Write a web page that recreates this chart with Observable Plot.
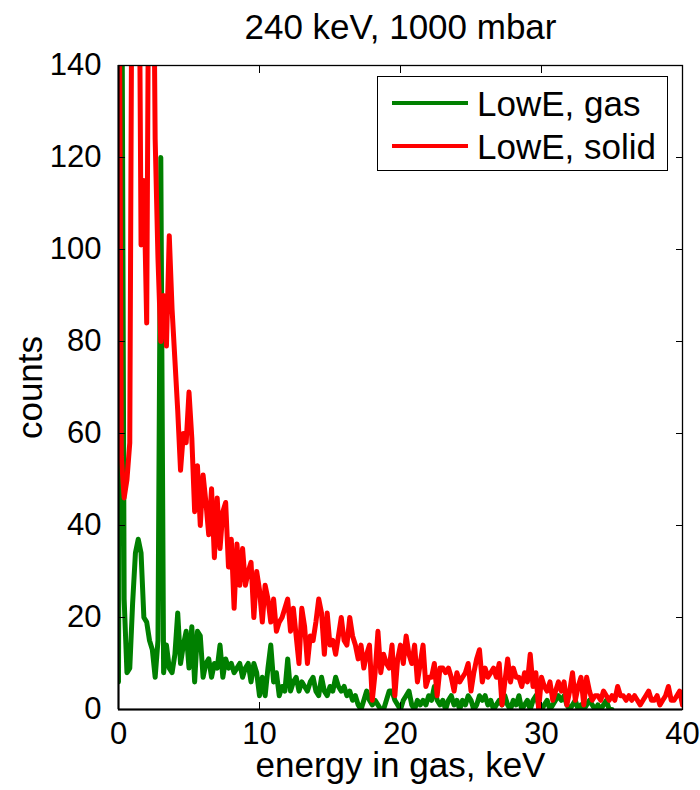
<!DOCTYPE html>
<html>
<head>
<meta charset="utf-8">
<script src="https://cdn.jsdelivr.net/npm/d3@7"></script>
<script src="https://cdn.jsdelivr.net/npm/@observablehq/plot@0.6"></script>
<style>
  body { margin: 0; background: #fff; }
  #chart { position: relative; width: 700px; height: 790px; font-family: "Liberation Sans", Arial, Helvetica, sans-serif; }
  #legend { position: absolute; left: 377px; top: 76px; width: 291px; height: 95px; border: 1.5px solid #000; background: #fff; box-sizing: border-box; }
  .sw { position: absolute; left: 14px; width: 76px; height: 4px; }
  .lab { position: absolute; left: 99px; font-size: 35px; line-height: 35px; color: #000; white-space: nowrap; }
</style>
</head>
<body>
<div id="chart"></div>
<script>
// ---- data (counts per 0.2 keV bin) ----
const title = "240 keV, 1000 mbar";
const xLabel = "energy in gas, keV";
const yLabel = "counts";
const seriesNames = ["LowE, gas", "LowE, solid"];
const seriesColors = ["#008000", "#ff0000"];
const binWidth = 0.2; // keV

// LowE, gas : bins from 0.0 to 35.0 keV
const gasCounts = [
  6,200,24,8,9,23,34,37,34,20,
  19,15,13,7,15,120,8,14,9,8,
  12,21,10,14,17,9,18,6,17,16,
  7,10,11,7,10,9,14,7,11,9,
  10,8,9,10,7,9,10,6,10,8,
  3,7,3,9,14,6,8,3,5,4,
  11,4,6,7,4,6,5,4,6,7,
  4,3,7,4,3,5,4,7,5,4,
  5,3,4,2,3,1,0,2,4,2,
  1,2,1,0,0,2,4,4,2,1,
  0,2,3,4,1,0,2,1,2,1,
  3,2,5,2,1,2,0,2,3,1,
  2,0,2,1,3,2,0,1,3,2,
  3,1,2,0,1,2,1,3,1,0,
  2,1,3,0,1,2,0,2,3,1,
  0,1,2,0,1,2,3,2,3,1,
  0,1,2,0,1,0,1,2,1,0,
  1,0,1,2,0,0
];

// LowE, solid : bins from 0.0 to 40.0 keV
const solidCounts = [
  200,55,46,50,58,200,200,200,101,115,
  84,200,200,124,98,80,90,79,103,87,
  76,65,52,60,58,69,59,43,53,40,
  51,45,38,48,33,46,35,43,45,31,
  37,22,36,27,35,27,30,32,20,30,
  26,19,27,24,19,24,17,19,20,22,
  24,17,22,16,10,22,18,10,16,15,
  19,24,21,12,21,14,15,12,16,20,
  15,14,20,16,14,11,14,9,12,14,
  2,8,17,8,12,10,9,14,3,11,
  14,10,16,12,10,14,6,10,14,5,
  7,7,10,3,9,9,8,9,7,4,
  8,6,7,8,10,4,8,11,13,6,
  9,7,8,9,7,10,1,6,11,6,
  9,7,7,5,8,6,12,5,8,0,
  7,5,4,6,2,4,6,4,6,1,
  4,8,2,5,7,1,7,4,2,3,
  3,2,4,3,2,3,2,5,3,3,
  2,3,2,3,2,1,2,3,4,2,
  2,3,1,2,3,5,2,2,3,4,
  1
];

const xTicks = [0, 10, 20, 30, 40];
const yTicks = [0, 20, 40, 60, 80, 100, 120, 140];
const xDomain = [0, 40];
const yDomain = [0, 140];

// ---- build tables ----
const gasData = gasCounts.map((c, i) => ({energy: +(i * binWidth).toFixed(1), counts: c}));
const solidData = solidCounts.map((c, i) => ({energy: +(i * binWidth).toFixed(1), counts: c}));

const font = "Liberation Sans, Arial, Helvetica, sans-serif";

const plot = Plot.plot({
  width: 700,
  height: 790,
  marginLeft: 118,
  marginRight: 18,
  marginTop: 65,
  marginBottom: 81,
  style: {fontFamily: font, color: "#000", background: "#fff", overflow: "visible"},
  x: {domain: xDomain},
  y: {domain: yDomain},
  marks: [
    Plot.line(gasData, {x: "energy", y: "counts", stroke: seriesColors[0], strokeWidth: 5, strokeLinejoin: "round", clip: "frame"}),
    Plot.line(solidData, {x: "energy", y: "counts", stroke: seriesColors[1], strokeWidth: 5, strokeLinejoin: "round", clip: "frame"}),
    Plot.frame({stroke: "#000", strokeWidth: 1.3}),
    Plot.ruleX([xDomain[0]], {stroke: "#000", strokeWidth: 2}),
    Plot.ruleY([yDomain[0]], {stroke: "#000", strokeWidth: 2}),
    Plot.axisX(xTicks, {anchor: "bottom", tickSize: -7, tickPadding: 19, fontSize: 31, label: null, stroke: "#000", fill: "#000"}),
    Plot.axisX(xTicks, {anchor: "top", tickSize: -7, fill: "none", label: null, stroke: "#000"}),
    Plot.axisY(yTicks, {anchor: "left", tickSize: -7, tickPadding: 24, fontSize: 31, label: null, stroke: "#000", fill: "#000"}),
    Plot.axisY(yTicks, {anchor: "right", tickSize: -7, fill: "none", label: null, stroke: "#000"}),
    Plot.text([title], {frameAnchor: "top", dy: -38, fontSize: 35, lineAnchor: "middle", textAnchor: "middle", fill: "#000"}),
    Plot.text([xLabel], {frameAnchor: "bottom", dy: 56, fontSize: 35, lineAnchor: "middle", textAnchor: "middle", fill: "#000"}),
    Plot.text([yLabel], {frameAnchor: "left", dx: -88, rotate: -90, fontSize: 35, lineAnchor: "middle", textAnchor: "middle", fill: "#000"})
  ]
});

const chart = document.getElementById("chart");
chart.appendChild(plot);

// legend (HTML overlay, top-right inside the axes box)
const legend = document.createElement("div");
legend.id = "legend";
const rowTops = [24, 67];   // swatch positions within the box
const textTops = [9, 52];
seriesNames.forEach((name, i) => {
  const sw = document.createElement("div");
  sw.className = "sw";
  sw.style.top = rowTops[i] + "px";
  sw.style.background = seriesColors[i];
  legend.appendChild(sw);
  const lab = document.createElement("div");
  lab.className = "lab";
  lab.style.top = textTops[i] + "px";
  lab.textContent = name;
  legend.appendChild(lab);
});
chart.appendChild(legend);
</script>
</body>
</html>
